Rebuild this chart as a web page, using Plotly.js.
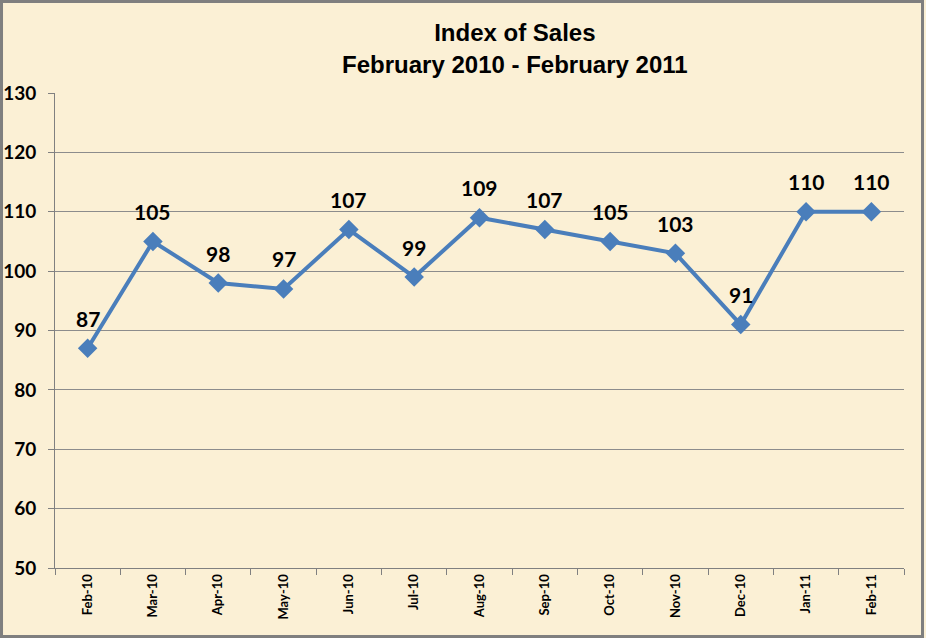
<!DOCTYPE html>
<html>
<head>
<meta charset="utf-8">
<script src="https://cdn.plot.ly/plotly-3.0.1.min.js"></script>
<style>
  html,body{margin:0;padding:0;background:#fff;}
  #chart{width:926px;height:638px;}
</style>
</head>
<body>
<div id="chart"></div>
<script>
const months = ['Feb-10','Mar-10','Apr-10','May-10','Jun-10','Jul-10','Aug-10','Sep-10','Oct-10','Nov-10','Dec-10','Jan-11','Feb-11']
const salesIndex = [87,105,98,97,107,99,109,107,105,103,91,110,110]
const yTicks = [50,60,70,80,90,100,110,120,130]

const fontFam = 'Lato, "Open Sans", sans-serif'
const titleFam = '"Liberation Sans", Arial, sans-serif'

let trace = {
    x: months,
    y: salesIndex,
    type: 'scatter',
    mode: 'lines+markers',
    line: {color: '#4A7EBB', width: 4},
    marker: {symbol: 'diamond', size: 15, color: '#4A7EBB'},
    hoverinfo: 'x+y'
}

// value labels above each point
let labels = months.map((m,i)=>({
    x: m, y: salesIndex[i],
    text: salesIndex[i].toString(),
    showarrow: false,
    yanchor: 'middle',
    yshift: 30,
    font: {family: fontFam, size: 21, color: '#000', weight: 'bold'}
}))

let layout = {
    width: 926,
    height: 638,
    margin: {l:55, r:22, t:93, b:70},
    paper_bgcolor: '#FBF0D5',
    plot_bgcolor: 'rgba(0,0,0,0)',
    showlegend: false,
    font: {family: fontFam, color: '#000'},
    title: {
        text: '<b>Index of Sales<br>February 2010 - February 2011</b>',
        font: {family: titleFam, size: 24, color: '#000'},
        x: 0.556, xanchor: 'center',
        y: 0.935, yanchor: 'top'
    },
    xaxis: {
        type: 'category',
        range: [-0.5, 12.5],
        tickson: 'boundaries',
        ticks: 'outside',
        ticklen: 6,
        tickcolor: '#808080',
        tickangle: -90,
        tickfont: {family: fontFam, size: 13, color: '#000', weight: 'bold'},
        showgrid: false,
        showline: true,
        linecolor: '#808080',
        linewidth: 1,
        fixedrange: true
    },
    yaxis: {
        range: [50,130],
        tickvals: yTicks,
        ticks: 'outside',
        ticklen: 6,
        tickcolor: '#808080',
        tickfont: {family: fontFam, size: 19, color: '#000', weight: 'bold'},
        showgrid: true,
        gridcolor: '#8C8C8C',
        gridwidth: 1,
        showline: true,
        linecolor: '#808080',
        linewidth: 1,
        zeroline: false,
        ticklabelstandoff: 8,
        fixedrange: true
    },
    annotations: labels,
    shapes: [{
        type: 'rect', xref: 'paper', yref: 'paper',
        x0: -0.0630, x1: 1.0218, y0: -0.1442, y1: 1.1926,
        line: {color: '#7F7F7F', width: 3}
    }]
}

Plotly.newPlot(document.getElementById('chart'),[trace],layout,{displayModeBar:false})
</script>
</body>
</html>
